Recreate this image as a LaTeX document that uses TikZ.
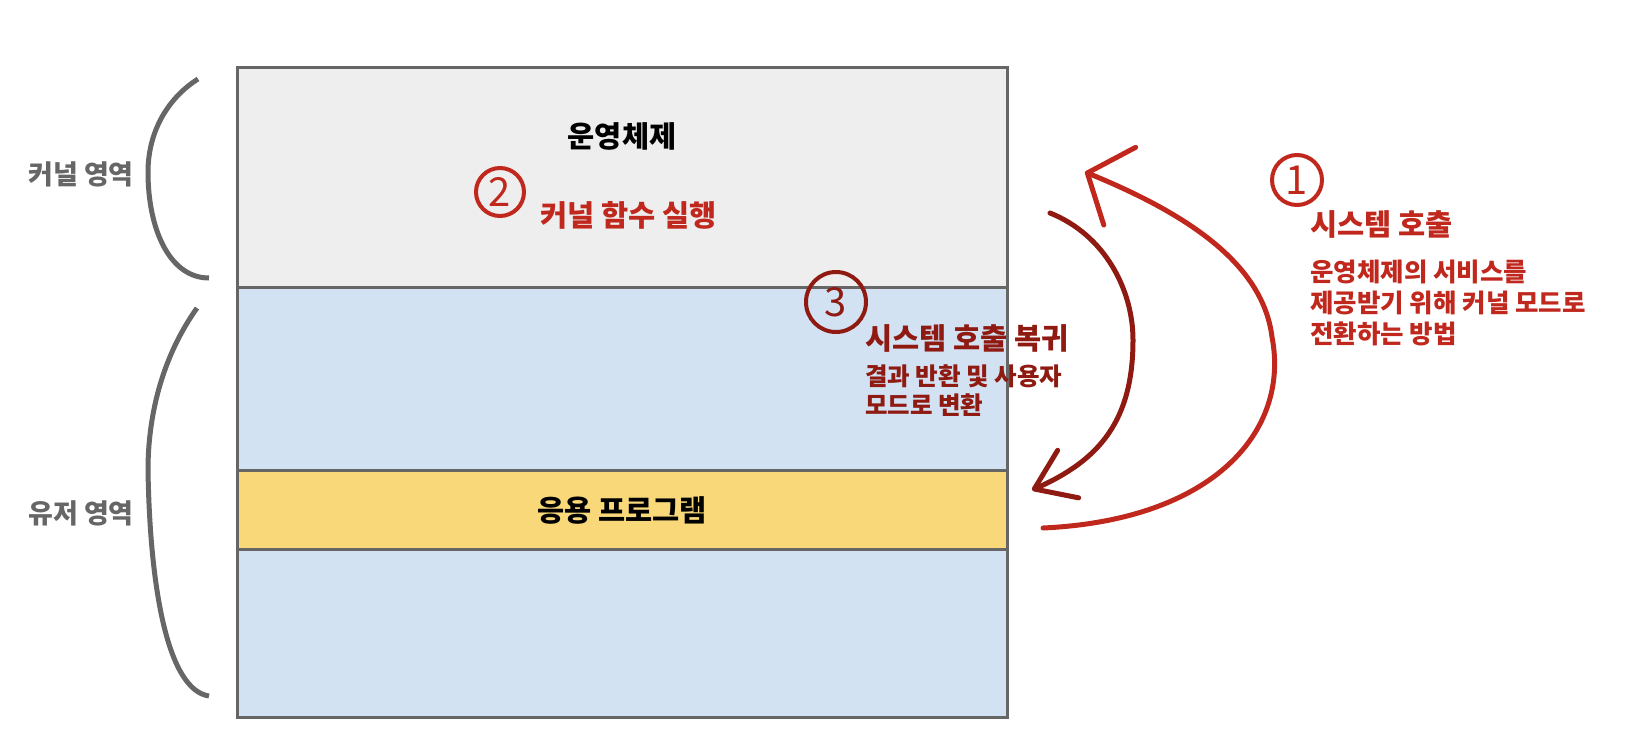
\documentclass[tikz,border=0pt]{standalone}
\usepackage{fontspec}
\setmainfont{Noto Sans CJK KR}
\usepackage{tikz}
\usetikzlibrary{arrows.meta,positioning}
\definecolor{linegray}{HTML}{666666}
\definecolor{kernelfill}{HTML}{EEEEEE}
\definecolor{userfill}{HTML}{D3E2F2}
\definecolor{appfill}{HTML}{F9D879}
\definecolor{callred}{HTML}{C0281E}
\definecolor{retred}{HTML}{8E1A12}
\newcommand{\headfont}{\fontsize{29.5}{34}\selectfont\bfseries}
\newcommand{\bodyfont}{\fontsize{25.5}{31}\selectfont\bfseries}

\begin{document}
\begin{tikzpicture}[x=1pt, y=-1pt,
  every node/.style={inner sep=0pt},
  layer/.style={draw=linegray, line width=3pt, minimum width=770pt},
  area/.style={font=\fontsize{27}{32}\selectfont\bfseries, text=linegray},
  bracket/.style={draw=linegray, line width=5pt},
  stepmark/.style={circle, draw, line width=4pt, minimum size=48pt,
                   font=\fontsize{40}{40}\selectfont},
  callarrow/.style={draw=callred, line width=5pt, line cap=round,
                    -{Straight Barb[length=35pt, width=84pt, round]}},
  retarrow/.style={draw=retred, line width=5pt, line cap=round,
                   -{Straight Barb[length=37pt, width=52pt, round]}}
]
\useasboundingbox (0,0) rectangle (1628,734);
%% layers
\node[layer, fill=userfill, minimum height=430pt] (user) at (622,502) {};
\node[layer, fill=kernelfill, minimum height=220pt] (kernel) at (622,177) {};
\node[layer, fill=appfill, minimum height=79pt] (app) at (622,509.5) {};
\node[font=\headfont] (os) at (622,136) {운영체제};
\node[font=\headfont] (prog) at (622,510) {응용 프로그램};
%% step 2
\node[stepmark, draw=callred, text=callred] (s2) at (500,192) {2};
\node[font=\headfont, text=callred, anchor=west] (exec) at (540,215) {커널 함수 실행};
%% step 3
\node[stepmark, draw=retred, text=retred, minimum size=60pt] (s3) at (836,302) {3};
\node[font=\headfont, text=retred, anchor=west] (ret) at (865,338) {시스템 호출 복귀};
\node[font=\fontsize{24.5}{29}\selectfont\bfseries, text=retred, align=left,
      below=12pt of ret.south west, anchor=north west] (retnote)
  {결과 반환 및 사용자\\모드로 변환};
%% step 1
\node[stepmark, draw=callred, text=callred, minimum size=50pt] (s1) at (1297,180) {1};
\node[font=\headfont, text=callred, anchor=west] (call) at (1310,224) {시스템 호출};
\node[font=\bodyfont, text=callred, align=left,
      below=22pt of call.south west, anchor=north west] (callnote)
  {운영체제의 서비스를\\제공받기 위해 커널 모드로\\전환하는 방법};
%% areas
\node[area] (kzone) at (81,174) {커널 영역};
\node[area] (uzone) at (81,513) {유저 영역};
\draw[bracket] (198,79) .. controls (165,100) and (148,135) .. (148,172)
  .. controls (148,230) and (170,278) .. (209,278);
\draw[bracket] (197,308) .. controls (160,360) and (148,420) .. (148,470)
  .. controls (150,590) and (168,690) .. (209,696);
%% mode switch arrows
\coordinate (callfrom) at (1043,528);
\coordinate (callto) at (1085,172);
\coordinate (retfrom) at (1050,213);
\coordinate (retto) at (1032,490);
\draw[callarrow] (callfrom) .. controls (1215,520) and (1290,430) .. (1272,337)
  .. controls (1263,265) and (1190,215) .. (callto);
\draw[retarrow] (retfrom) .. controls (1105,235) and (1133,290) .. (1133,340)
  .. controls (1133,420) and (1100,460) .. (retto);
\end{tikzpicture}
\end{document}
